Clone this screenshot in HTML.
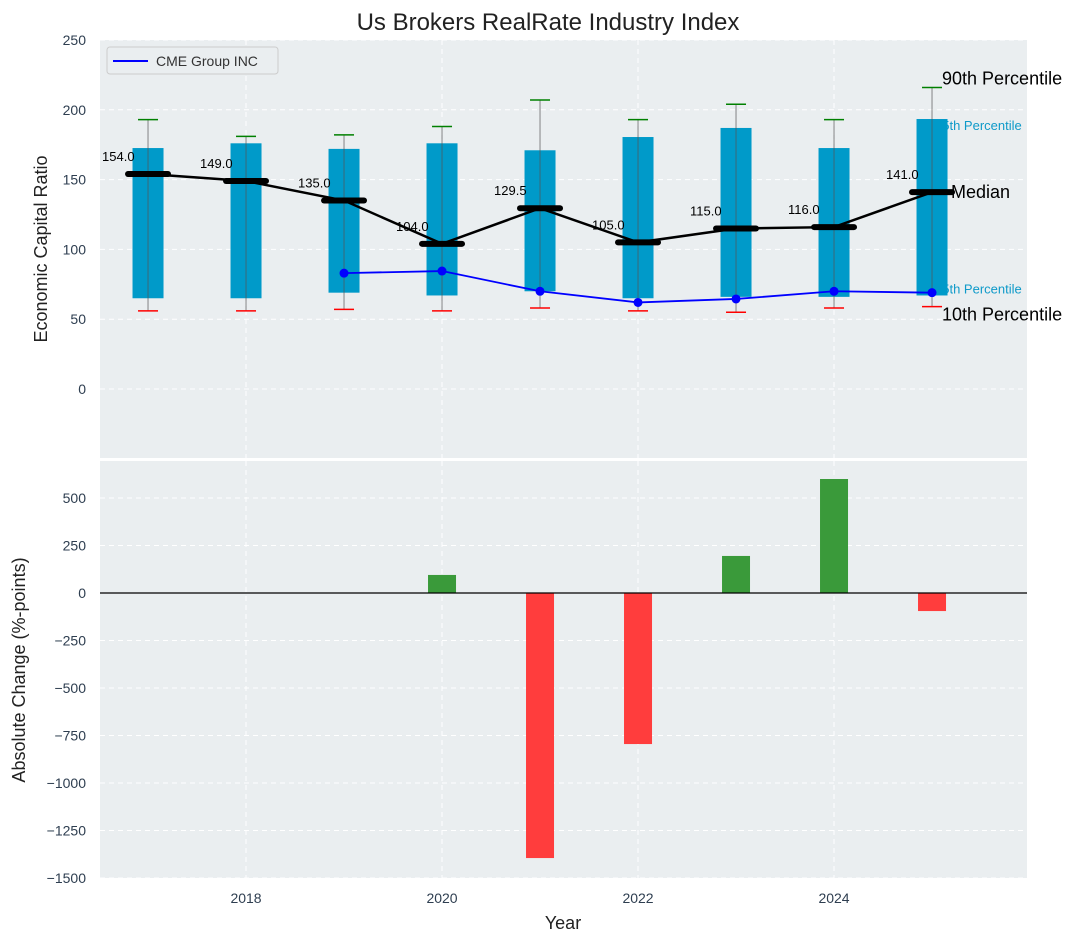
<!DOCTYPE html>
<html><head><meta charset="utf-8"><style>
body{margin:0;background:#fff;}
svg text{font-family:"Liberation Sans","DejaVu Sans",sans-serif;}
</style></head><body>
<svg id="chart" width="1077" height="942" xmlns="http://www.w3.org/2000/svg">
<text x="548" y="30" font-size="24" text-anchor="middle" fill="#222">Us Brokers RealRate Industry Index</text>
<rect x="100" y="40" width="927" height="418" fill="#eaeef0"/>
<rect x="100" y="461" width="927" height="417" fill="#eaeef0"/>
<g id="topg"></g><g id="botg"></g>
<text x="47" y="249" font-size="18" fill="#222" text-anchor="middle" transform="rotate(-90 47 249)">Economic Capital Ratio</text>
<text x="25" y="670" font-size="18" fill="#222" text-anchor="middle" transform="rotate(-90 25 670)">Absolute Change (%-points)</text>
<text x="563" y="929" font-size="18" fill="#222" text-anchor="middle">Year</text>
<g id="legendg"></g>
</svg>
<script>
const years=[2017,2018,2019,2020,2021,2022,2023,2024,2025];
const p90=[193,181,182,188,207,193,204,193,216];
const p75=[172.6,176,172,176,171,180.5,187,172.6,193.4];
const p25=[65,65,69,67,70,65,66,66,67];
const p10=[56,56,57,56,58,56,55,58,59];
const medians=[154,149,135,104,129.5,105,115,116,141];
const cme=[null,null,83,84.5,70,62,64.5,70,69];
const changeYears=[2020,2021,2022,2023,2024,2025];
const changes=[95,-1395,-795,195,600,-95];
const topTicks=[0,50,100,150,200,250];
const botTicks=[-1500,-1250,-1000,-750,-500,-250,0,250,500];
const xTicks=[2018,2020,2022,2024];

const NS="http://www.w3.org/2000/svg";
const X=v=>100+(v-2016.51)*98;
const Yt=v=>389-v*1.396;
const Yb=v=>593-v*0.19;
function el(p,t,a){const e=document.createElementNS(NS,t);for(const k in a)e.setAttribute(k,a[k]);p.appendChild(e);return e;}
const gTop=document.getElementById('topg'),gBot=document.getElementById('botg');
const svgEl=document.getElementById('chart');
topTicks.forEach(t=>{const y=Yt(t);
 const g=el(gTop,'line',{x1:100,x2:1027,y1:y,y2:y,stroke:'#fff','stroke-dasharray':'5,4','stroke-width':1});
 
 
 const tx=el(svgEl,'text',{x:86,y:y+5,'font-size':14,fill:'#2e3e50','text-anchor':'end'});tx.textContent=t;
 
 });
botTicks.forEach(t=>{const y=Yb(t);
 const g=el(gBot,'line',{x1:100,x2:1027,y1:y,y2:y,stroke:'#fff','stroke-dasharray':'5,4','stroke-width':1});
 
 
 const tx=el(svgEl,'text',{x:86,y:y+5,'font-size':14,fill:'#2e3e50','text-anchor':'end'});tx.textContent=String(t).replace('-','−');
 
 });
xTicks.forEach(t=>{const x=X(t);
 [[gTop,40,458],[gBot,461,878]].forEach(([p,a,b])=>{const g=el(p,'line',{x1:x,x2:x,y1:a,y2:b,stroke:'#fff','stroke-dasharray':'5,4'});
 
 });
 const tx=el(svgEl,'text',{x:x,y:903,'font-size':14,fill:'#2e3e50','text-anchor':'middle'});tx.textContent=t;
 
 });
const lx=X(2025);
[['75th Percentile',lx+3,Yt(p75[8])+11,13,'#0f9ac9'],['25th Percentile',lx+3,Yt(p25[8])-2,13,'#0f9ac9']].forEach(a=>{
 const t=el(gTop,'text',{x:a[1],y:a[2],'font-size':a[3],fill:a[4]});t.textContent=a[0];
 
 });
years.forEach((yr,i)=>{const x=X(yr);
 const r=el(gTop,'rect',{x:x-15.5,y:Yt(p75[i]),width:31,height:Yt(p25[i])-Yt(p75[i]),fill:'#009ac9'});
 
 
 const w=el(gTop,'line',{x1:x,x2:x,y1:Yt(p90[i]),y2:Yt(p10[i]),stroke:'#555','stroke-opacity':0.7,'stroke-width':1});
 
 
 const c1=el(gTop,'line',{x1:x-10,x2:x+10,y1:Yt(p90[i]),y2:Yt(p90[i]),stroke:'green','stroke-width':1.5});
 
 
 const c2=el(gTop,'line',{x1:x-10,x2:x+10,y1:Yt(p10[i]),y2:Yt(p10[i]),stroke:'red','stroke-width':1.5});
 
 
});
const ml=el(gTop,'polyline',{points:years.map((y,i)=>X(y)+','+Yt(medians[i])).join(' '),fill:'none',stroke:'#000','stroke-width':2.5});


years.forEach((yr,i)=>{const x=X(yr),y=Yt(medians[i]);
 const m=el(gTop,'line',{x1:x-20,x2:x+20,y1:y,y2:y,stroke:'#000','stroke-width':6,'stroke-linecap':'round'});
 
 
 const t=el(gTop,'text',{x:x-46,y:y-13,'font-size':13,fill:'#000'});t.textContent=medians[i].toFixed(1);
 
 });
const pts=years.map((y,i)=>cme[i]==null?null:X(y)+','+Yt(cme[i])).filter(v=>v);
const cl=el(gTop,'polyline',{points:pts.join(' '),fill:'none',stroke:'#0000ff','stroke-width':1.8});


years.forEach((yr,i)=>{if(cme[i]==null)return;
 const c=el(gTop,'circle',{cx:X(yr),cy:Yt(cme[i]),r:4.5,fill:'#0000ff'});
 
 });
[['90th Percentile',lx+10,Yt(p90[8])-3,18],['Median',lx+19,Yt(medians[8])+6,18],['10th Percentile',lx+10,Yt(p10[8])+14,18]].forEach(a=>{
 const t=el(svgEl,'text',{x:a[1],y:a[2],'font-size':a[3],fill:'#000'});t.textContent=a[0];
 
 });
changeYears.forEach((yr,i)=>{const v=changes[i];const y0=Yb(0),y1=Yb(v);
 const r=el(gBot,'rect',{x:X(yr)-14,y:Math.min(y0,y1),width:28,height:Math.abs(y1-y0),fill:v>=0?'#3a9a3a':'#ff3d3d'});
 
 });
const z=el(gBot,'line',{x1:100,x2:1027,y1:Yb(0),y2:Yb(0),stroke:'#000','stroke-width':1.2});


const lg=document.getElementById('legendg');


el(lg,'rect',{x:107,y:47,width:171,height:27,rx:3,fill:'#eaeef0',stroke:'#ccc'});
el(lg,'line',{x1:113,y1:61,x2:148,y2:61,stroke:'#0000ff','stroke-width':2});
const lt=el(lg,'text',{x:156,y:66,'font-size':14,fill:'#333'});lt.textContent='CME Group INC';


</script>
</body></html>
